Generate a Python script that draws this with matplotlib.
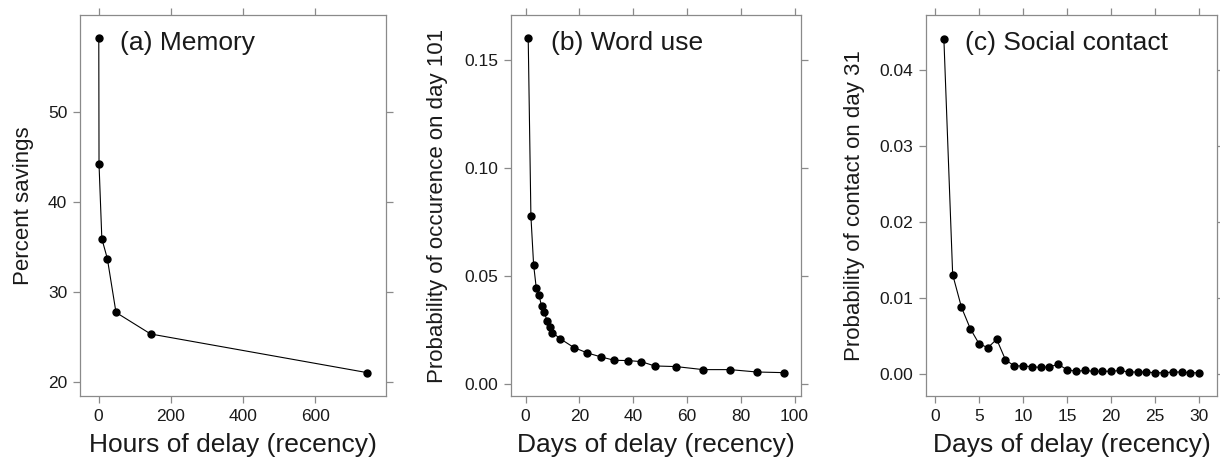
import matplotlib
matplotlib.use('Agg')
import matplotlib.pyplot as plt

plt.rcParams['font.family'] = ['Liberation Sans', 'DejaVu Sans']

# (a) Memory: hours of delay vs percent savings
mem_hours = [0.33, 1, 8.8, 24, 48, 144, 744]
mem_savings = [58.2, 44.2, 35.9, 33.7, 27.7, 25.3, 21.0]

# (b) Word use: days of delay vs probability of occurence on day 101
word_days = [1, 2, 3, 4, 5, 6, 7, 8, 9, 10, 13, 18, 23, 28, 33, 38, 43, 48, 56, 66, 76, 86, 96]
word_prob = [0.160, 0.0778, 0.0554, 0.0444, 0.0412, 0.0360, 0.0335, 0.0292, 0.0267, 0.0239,
             0.0210, 0.0170, 0.0145, 0.0127, 0.0111, 0.0110, 0.0105, 0.0085, 0.0082,
             0.0068, 0.0068, 0.0057, 0.0054]

# (c) Social contact: days of delay vs probability of contact on day 31
social_days = [1, 2, 3, 4, 5, 6, 7, 8, 9, 10, 11, 12, 13, 14, 15,
               16, 17, 18, 19, 20, 21, 22, 23, 24, 25, 26, 27, 28, 29, 30]
social_prob = [0.0441, 0.0131, 0.0088, 0.0060, 0.0040, 0.0035, 0.0046, 0.0019, 0.0011, 0.0011,
               0.0010, 0.0009, 0.0010, 0.0013, 0.0006, 0.0004, 0.0005, 0.0004, 0.0004, 0.0004,
               0.0005, 0.0003, 0.0003, 0.0003, 0.0002, 0.0002, 0.0003, 0.0003, 0.0002, 0.0002]

panels = [
    dict(x=mem_hours, y=mem_savings, title='(a) Memory',
         xlabel='Hours of delay (recency)', ylabel='Percent savings',
         xticks=[0, 200, 400, 600], yticks=[20, 30, 40, 50], yfmt='{:.0f}',
         xlim=(-51.7, 796), ylim=(18.4, 60.8),
         pos=[80, 386], ylab_x=-0.186, title_x=0.131),
    dict(x=word_days, y=word_prob, title='(b) Word use',
         xlabel='Days of delay (recency)', ylabel='Probability of occurence on day 101',
         xticks=[0, 20, 40, 60, 80, 100], yticks=[0.0, 0.05, 0.10, 0.15], yfmt='{:.2f}',
         xlim=(-5.4, 102.4), ylim=(-0.0054, 0.1708),
         pos=[511, 801], ylab_x=-0.252, title_x=0.137),
    dict(x=social_days, y=social_prob, title='(c) Social contact',
         xlabel='Days of delay (recency)', ylabel='Probability of contact on day 31',
         xticks=[0, 5, 10, 15, 20, 25, 30], yticks=[0.0, 0.01, 0.02, 0.03, 0.04], yfmt='{:.2f}',
         xlim=(-1.03, 32.03), ylim=(-0.00285, 0.0472),
         pos=[926, 1217], ylab_x=-0.244, title_x=0.134),
]

W, H = 1220, 463
fig = plt.figure(figsize=(W / 100, H / 100), dpi=100)
frame = '#8a8a8a'
textc = '#1a1a1a'

for p in panels:
    left, right = p['pos']
    ax = fig.add_axes([left / W, (H - 396) / H, (right - left) / W, 381 / H])
    ax.plot(p['x'], p['y'], '-', color='black', lw=0.8)
    ax.plot(p['x'], p['y'], 'o', color='black', ms=5)
    ax.set_xlim(*p['xlim'])
    ax.set_ylim(*p['ylim'])
    ax.set_xticks(p['xticks'])
    ax.set_yticks(p['yticks'])
    ax.set_yticklabels([p['yfmt'].format(v) for v in p['yticks']])
    for s in ax.spines.values():
        s.set_color(frame)
        s.set_linewidth(0.9)
    ax.tick_params(which='both', direction='out', top=True, right=True,
                   labeltop=False, labelright=False, length=5.2, width=0.9,
                   color=frame, labelcolor=textc, labelsize=12.5, pad=4)
    ax.set_xlabel(p['xlabel'], fontsize=19, color=textc, va='center')
    ax.xaxis.set_label_coords(0.5, -0.129)
    ax.set_ylabel(p['ylabel'], fontsize=16, color=textc, va='center')
    ax.yaxis.set_label_coords(p['ylab_x'], 0.5)
    ax.text(p['title_x'], 0.927, p['title'], transform=ax.transAxes,
            fontsize=19, color=textc, va='center', ha='left')

fig.savefig('out.png', dpi=100)
